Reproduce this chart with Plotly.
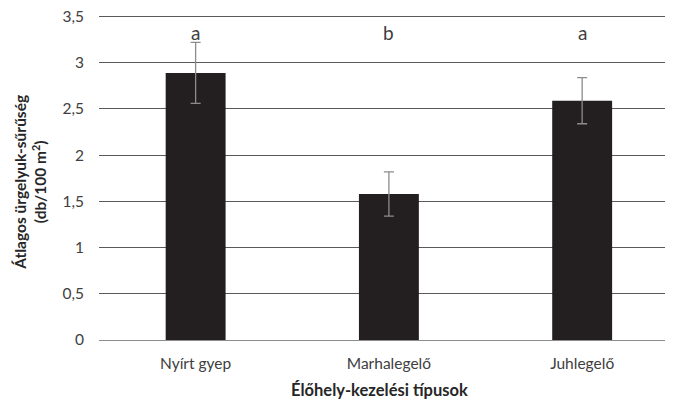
import plotly.graph_objects as go

categories = ["Nyírt gyep", "Marhalegelő", "Juhlegelő"]
means = [2.89, 1.58, 2.59]
errors = [0.33, 0.24, 0.25]
letters = ["a", "b", "a"]
letter_y = 3.33
y_ticks = [0, 0.5, 1, 1.5, 2, 2.5, 3, 3.5]

FONT = "Lato"
OFF = 8  # default page body margin
Y_MAX = 3.56
ppu = (340 - 17) / 3.5
W, H = 673 - OFF, 400 - OFF
L, R = 99 - OFF, 0
T = 340 - Y_MAX * ppu - OFF
B = H - (340 - OFF)
pw = W - L - R
ph = H - T - B

def px_x(p):
    return (p - OFF - L) / pw

def px_y(p):
    return (T + ph - (p - OFF)) / ph

fig = go.Figure()
fig.add_trace(go.Bar(
    x=categories, y=means,
    marker=dict(color="#231f20", line=dict(width=0)),
    error_y=dict(type="data", array=errors, visible=True,
                 color="#8c8c8c", thickness=1.3, width=5),
    width=0.31,
))

for c, l in zip(categories, letters):
    fig.add_annotation(x=c, y=letter_y, xref="x", yref="y", text=l,
                       showarrow=False, font=dict(family=FONT, size=19, color="#404040"),
                       xanchor="center", yanchor="middle")

fig.add_annotation(
    xref="paper", yref="paper", x=px_x(30), y=px_y(183),
    text="<b>Átlagos ürgelyuk-sűrűség</b><br><b>(db/100 m<sup>2</sup>)</b>",
    textangle=-90, showarrow=False, xanchor="center", yanchor="middle",
    font=dict(family=FONT, size=15.5, color="#262626"))

fig.add_annotation(
    xref="paper", yref="paper", x=px_x(379), y=px_y(390),
    text="<b>Élőhely-kezelési típusok</b>", showarrow=False,
    xanchor="center", yanchor="middle",
    font=dict(family=FONT, size=16.5, color="#262626"))

fig.update_layout(
    width=W, height=H,
    margin=dict(l=L, r=R, t=T, b=B, pad=0, autoexpand=False),
    paper_bgcolor="white", plot_bgcolor="white",
    separators=", ",
    showlegend=False,
    font=dict(family=FONT, size=15.5, color="#404040"),
)
fig.update_xaxes(
    range=[-0.5, 2.47], showgrid=False, zeroline=False,
    showline=True, linecolor="#8c8c8c", linewidth=1.3,
    ticks="", ticklabelstandoff=9,
    tickfont=dict(family=FONT, size=15.5, color="#404040"),
)
fig.update_yaxes(
    range=[0, Y_MAX], tickvals=y_ticks,
    showgrid=True, gridcolor="#5a5a5a", gridwidth=1,
    zeroline=False, showline=False, ticks="",
    ticklabelstandoff=14, ticklabeloverflow="allow",
    tickfont=dict(family=FONT, size=15.5, color="#404040"),
)

fig.write_html("out.html")
